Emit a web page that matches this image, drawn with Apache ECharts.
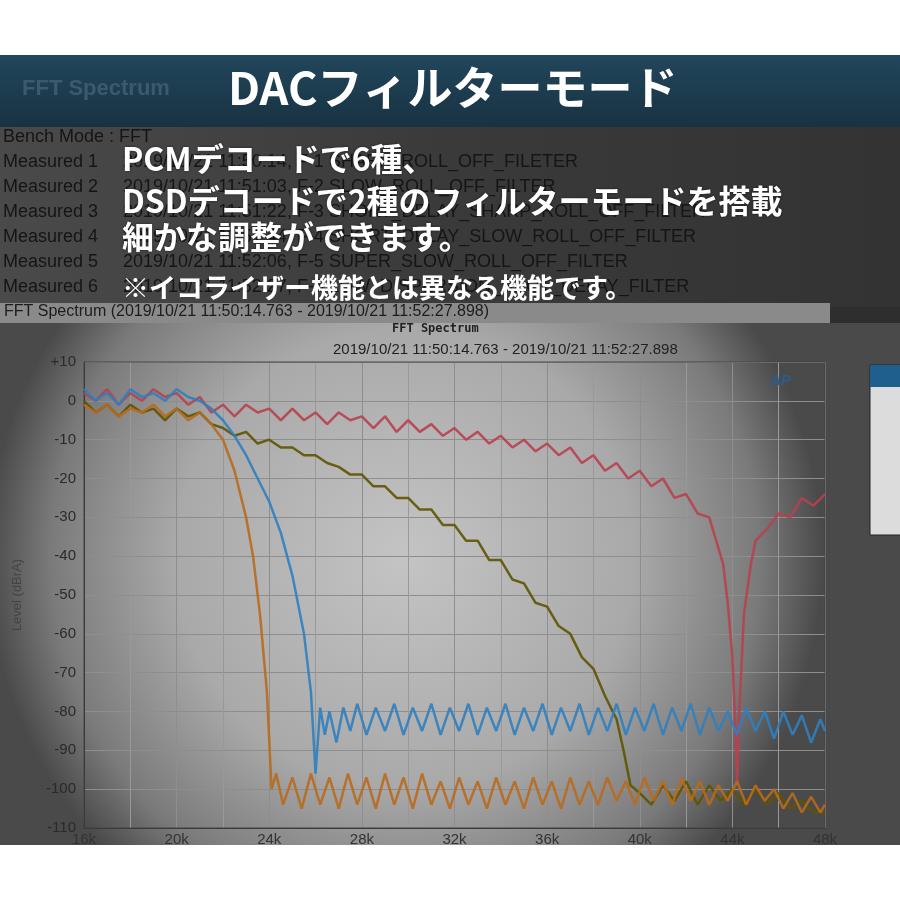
<!DOCTYPE html>
<html><head><meta charset="utf-8">
<script src="https://cdn.jsdelivr.net/npm/echarts@6/dist/echarts.min.js"></script>
<style>html,body{margin:0;padding:0;background:#fff}#c{width:900px;height:900px}</style>
</head><body><div id="c"></div>
<script>
const xTicks = ['16k','20k','24k','28k','32k','36k','40k','44k','48k'];
const redX = [16,16.5,17,17.5,18,18.5,19,19.5,20,20.5,21,21.5,22,22.5,23,23.5,24,24.5,25,25.5,26,26.5,27,27.5,28,28.5,29,29.5,30,30.5,31,31.5,32,32.5,33,33.5,34,34.5,35,35.5,36,36.5,37,37.5,38,38.5,39,39.5,40,40.5,41,41.5,42,42.5,43,43.3,43.6,43.8,44,44.1,44.2,44.3,44.5,44.8,45,45.5,46,46.5,47,47.5,48];
const redY = [2,0,3,-1,2,0,3,1,2,-1,1,-3,-1,-4,-1,-3,-2,-5,-2,-5,-3,-6,-3,-5,-4,-7,-4,-8,-5,-8,-6,-9,-7,-10,-8,-11,-9,-12,-10,-13,-11,-14,-12,-16,-14,-18,-16,-20,-18,-22,-20,-25,-24,-29,-30,-36,-42,-52,-66,-80,-99,-80,-55,-42,-36,-33,-29,-30,-25,-27,-24];
const orangeX = [16,16.5,17,17.5,18,18.5,19,19.5,20,20.5,21,21.5,22,22.5,23,23.3,23.6,23.9,24.1,24.3,24.6,25,25.4,25.8,26.2,26.6,27,27.4,27.8,28.2,28.6,29,29.4,29.8,30.2,30.6,31,31.4,31.8,32.2,32.6,33,33.4,33.8,34.2,34.6,35,35.4,35.8,36.2,36.6,37,37.4,37.8,38.2,38.6,39,39.4,39.8,40.2,40.6,41,41.4,41.8,42.2,42.6,43,43.4,43.8,44.2,44.6,45,45.4,45.8,46.2,46.6,47,47.4,47.8,48];
const orangeY = [-1,-3,-1,-4,-2,-3,-1,-4,-2,-5,-3,-6,-10,-18,-30,-40,-55,-75,-100,-96,-104,-97,-105,-96,-104,-97,-105,-96,-104,-97,-105,-96,-104,-97,-105,-96,-104,-98,-105,-97,-104,-98,-105,-97,-104,-98,-105,-97,-104,-98,-105,-97,-104,-98,-104,-97,-103,-98,-104,-97,-103,-98,-104,-97,-103,-98,-104,-99,-103,-98,-104,-99,-103,-100,-105,-101,-106,-102,-106,-104];
const blueX = [16,16.5,17,17.5,18,18.5,19,19.5,20,20.5,21,21.5,22,22.5,23,23.5,24,24.5,25,25.5,25.8,26,26.2,26.4,26.6,26.9,27.2,27.5,27.8,28.2,28.6,29,29.4,29.8,30.2,30.6,31,31.4,31.8,32.2,32.6,33,33.4,33.8,34.2,34.6,35,35.4,35.8,36.2,36.6,37,37.4,37.8,38.2,38.6,39,39.4,39.8,40.2,40.6,41,41.4,41.8,42.2,42.6,43,43.4,43.8,44.2,44.6,45,45.4,45.8,46.2,46.6,47,47.4,47.8,48];
const blueY = [3,0,2,-1,3,1,2,0,3,1,0,-2,-5,-9,-14,-20,-26,-34,-45,-60,-75,-96,-79,-86,-80,-88,-79,-85,-78,-86,-79,-85,-78,-86,-79,-85,-78,-86,-79,-85,-78,-86,-79,-85,-78,-86,-79,-85,-78,-86,-79,-85,-78,-86,-79,-85,-78,-86,-79,-85,-78,-86,-79,-85,-78,-86,-79,-85,-80,-86,-79,-85,-80,-87,-80,-86,-81,-88,-82,-85];
const yellowX = [16,16.5,17,17.5,18,18.5,19,19.5,20,20.5,21,21.5,22,22.5,23,23.5,24,24.5,25,25.5,26,26.5,27,27.5,28,28.5,29,29.5,30,30.5,31,31.5,32,32.5,33,33.5,34,34.5,35,35.5,36,36.5,37,37.5,38,38.5,39,39.3,39.6,40,40.5,41,41.5,42,42.5,43,43.5,44,44.5,45,45.5,46,46.5,47,47.5,48];
const yellowY = [0,-3,-1,-4,-1,-3,-2,-5,-2,-4,-3,-6,-7,-9,-8,-11,-10,-12,-12,-14,-14,-16,-17,-19,-19,-22,-22,-25,-25,-28,-28,-32,-32,-36,-36,-41,-41,-46,-47,-52,-53,-58,-60,-66,-69,-76,-82,-90,-99,-101,-104,-99,-103,-98,-104,-99,-103,-100,-104,-100,-104,-101,-105,-103,-106,-106];
const yTicks = [10,0,-10,-20,-30,-40,-50,-60,-70,-80,-90,-100,-110];
const bgText = ['Bench Mode : FFT','Measured 1     2019/10/21 11:50:14, F-1 SHARP_ROLL_OFF_FILETER','Measured 2     2019/10/21 11:51:03, F-2 SLOW_ROLL_OFF_FILTER','Measured 3     2019/10/21 11:51:22, F-3 SHORT_DELAY_SHARP_ROLL_OFF_FILTER','Measured 4     2019/10/21 11:51:44, F-4 SHORT_DELAY_SLOW_ROLL_OFF_FILTER','Measured 5     2019/10/21 11:52:06, F-5 SUPER_SLOW_ROLL_OFF_FILTER','Measured 6     2019/10/21 11:52:27, F-6 LOW_DISPERSION_SHOT_DELAY_FILTER'];
const overlay = ['PCMデコードで6種、','DSDデコードで2種のフィルターモードを搭載','細かな調整ができます。'];

const zip=(xs,ys)=>xs.map((x,i)=>[x*1000,ys[i]]);
const chart = echarts.init(document.getElementById('c'));
const g = [
 {type:'rect',z:-10,shape:{x:0,y:55,width:900,height:790},style:{fill:'#2e2e2e'}},
 {type:'rect',z:-9,shape:{x:0,y:55,width:900,height:72},style:{fill:{type:'linear',x:0,y:0,x2:0,y2:1,colorStops:[{offset:0,color:'#22465c'},{offset:1,color:'#183242'}]}}},
 {type:'text',z:-8,left:22,top:78,style:{text:'FFT Spectrum',fill:'#3d5a6c',font:'bold 22px Arial'}},
 {type:'rect',z:-9,shape:{x:0,y:127,width:900,height:180},style:{fill:{type:'linear',x:0,y:0,x2:1,y2:0,colorStops:[{offset:0,color:'#4a4a4a'},{offset:0.5,color:'#3a3a3a'},{offset:1,color:'#333'}]}}},
 {type:'rect',z:-9,shape:{x:0,y:303,width:830,height:20},style:{fill:'#8a8a8a'}},
 {type:'text',z:-8,left:4,top:304,style:{text:'FFT Spectrum (2019/10/21 11:50:14.763 - 2019/10/21 11:52:27.898)',fill:'#1c1c1c',font:'16px "Liberation Sans"'}},
 {type:'rect',z:-9,shape:{x:0,y:323,width:900,height:522},style:{fill:{type:'radial',x:0.45,y:0.45,r:0.8,colorStops:[{offset:0,color:'#c4c4c4'},{offset:0.55,color:'#a9a9a9'},{offset:0.85,color:'#7a7a7a'},{offset:1,color:'#4a4a4a'}]}}},
 {type:'text',z:-8,left:392,top:323,style:{text:'FFT Spectrum',fill:'#222',font:'bold 12px "DejaVu Sans Mono"'}},
 {type:'text',z:-8,left:333,top:342,style:{text:'2019/10/21 11:50:14.763 - 2019/10/21 11:52:27.898',fill:'#222',font:'15px "Liberation Sans"'}},
 {type:'rect',z:-8,shape:{x:870,y:365,width:40,height:170},style:{fill:'#dcdcdc',stroke:'#222',lineWidth:1}},
 {type:'rect',z:-7,shape:{x:870,y:365,width:40,height:22},style:{fill:'#1f5f8e'}},
 {type:'rect',z:3,shape:{x:84,y:362,width:741,height:466},style:{fill:'none',stroke:'#444',lineWidth:1}},
 {type:'text',z:5,left:770,top:373,style:{text:'AP',fill:'#2a5d8e',font:'italic bold 15px Arial'}},
 {type:'text',z:20,left:228,top:65,style:{text:'DACフィルターモード',fill:'#fff',font:'bold 45px "Noto Sans CJK JP"'}},
 {type:'text',z:20,left:122,top:274,style:{text:'※イコライザー機能とは異なる機能です。',fill:'#fff',font:'bold 27px "Noto Sans CJK JP"'}}
];
bgText.forEach((t,i)=>g.push({type:'text',z:-8,left:3,top:128+i*25,style:{text:t,fill:'#151515',font:'18px "Liberation Sans"'}}));
overlay.forEach((t,i)=>g.push({type:'text',z:20,left:122,top:[143,185,221][i],style:{text:t,fill:'#fff',font:'bold 32px "Noto Sans CJK JP"',textShadowColor:'rgba(0,0,0,0.5)',textShadowBlur:3}}));
g.push({type:'rect',z:-9,shape:{x:0,y:845,width:900,height:55},style:{fill:'#fff'}});

const mk=(name,d,c)=>({name,type:'line',data:d,showSymbol:false,lineStyle:{color:c,width:2.5,opacity:0.9},itemStyle:{color:c}});
chart.setOption({
 animation:false,
 graphic:g,
 grid:{left:84,right:75,top:362,bottom:72},
 xAxis:{type:'value',min:16000,max:48000,interval:4000,minorSplitLine:{show:true,lineStyle:{color:'#999'}},minorTick:{splitNumber:2,show:false},
   axisLine:{onZero:false,lineStyle:{color:'#333'}},axisTick:{show:false},
   splitLine:{lineStyle:{color:'#8e8e8e'}},
   axisLabel:{color:'#333',fontSize:15,margin:4,formatter:v=>xTicks[(v-16000)/4000]}},
 yAxis:{type:'value',min:-110,max:10,interval:10,name:'Level (dBrA)',nameLocation:'middle',nameGap:60,nameTextStyle:{color:'#444',fontSize:13},
   axisLine:{show:true,lineStyle:{color:'#333'}},axisTick:{show:false},
   splitLine:{lineStyle:{color:'#8e8e8e'}},
   axisLabel:{color:'#2a2a2a',fontSize:15,formatter:v=>yTicks.includes(v)?(v>0?'+'+v:String(v)):''}},
 series:[
   mk('Slow',zip(redX,redY),'#b8404e'),
   mk('Super slow',zip(yellowX,yellowY),'#5e5400'),
   mk('Short delay',zip(blueX,blueY),'#2f7fc0'),
   mk('Sharp',zip(orangeX,orangeY),'#b86a1c')
 ]
});
</script></body></html>
